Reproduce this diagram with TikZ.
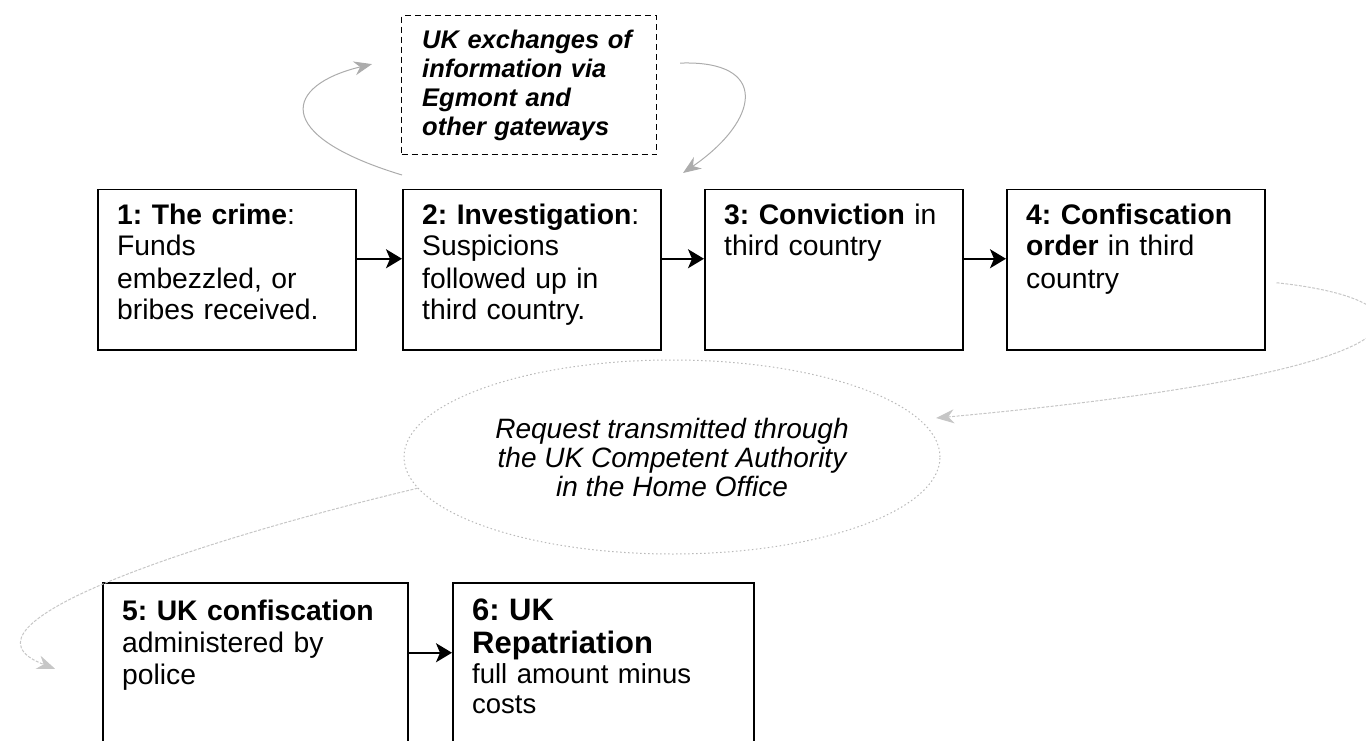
\documentclass[tikz,border=0pt]{standalone}
\usepackage{fontspec}
\setmainfont{Liberation Sans}
\usetikzlibrary{shapes.geometric,arrows.meta}
\frenchspacing
\hyphenpenalty=10000

\newcommand{\stagefont}{\fontsize{28.3}{32}\selectfont}
\newcommand{\headfont}{\fontsize{31}{33}\selectfont\bfseries}
\newcommand{\bodyfont}{\fontsize{27.5}{30}\selectfont}
\newcommand{\notefont}{\fontsize{25.5}{29}\selectfont\bfseries\itshape}
\newcommand{\requestfont}{\fontsize{28}{29}\selectfont\itshape}

\tikzset{
  stage/.style={draw, line width=1.5pt, anchor=north west, inner sep=0pt, minimum width=258pt, minimum height=160pt},
  stagetext/.style={anchor=base west, inner sep=0pt, text width=290pt, align=left, font=\stagefont},
  note/.style={draw, line width=1.2pt, dash pattern=on 6pt off 4pt, anchor=north west, inner sep=0pt, minimum width=255pt, minimum height=139pt},
  notetext/.style={anchor=base west, inner sep=0pt, text width=230pt, align=left, font=\notefont},
  request/.style={ellipse, draw=gray!55, line width=1pt, dash pattern=on 1.5pt off 2.5pt, minimum width=536pt, minimum height=194pt, inner sep=0pt, align=center, font=\requestfont},
  flow/.style={line width=1.8pt, -{Stealth[length=16pt,width=19pt,inset=4pt]}},
  relay/.style={gray!65, line width=1pt, -{Stealth[length=18pt,width=14pt]}},
  faint/.style={gray!45, line width=1pt, dash pattern=on 3pt off 1.5pt, -{Stealth[length=18pt,width=14pt]}},
}

\begin{document}
\begin{tikzpicture}[x=1pt,y=-1pt]
  \useasboundingbox (0,0) rectangle (1366,741);
  \clip (0,0) rectangle (1366,741);
  % stages in third country
  \node[stage] (s1) at (97,189) {};
  \node[stage] (s2) at (402,189) {};
  \node[stage] (s3) at (704,189) {};
  \node[stage] (s4) at (1006,189) {};
  \node[stagetext] (s1t) at ([shift={(20,35)}]s1.north west) {\textbf{1: The crime}:\\ Funds\\ embezzled, or\\ bribes received.};
  \node[stagetext] (s2t) at ([shift={(20,35)}]s2.north west) {\textbf{2: Investigation}:\\ Suspicions\\ followed up in\\ third country.};
  \node[stagetext] (s3t) at ([shift={(20,35)}]s3.north west) {\textbf{3: Conviction} in\\ third country};
  \node[stagetext] (s4t) at ([shift={(20,35)}]s4.north west) {\textbf{4: Confiscation}\\ \textbf{order} in third\\ country};
  \draw[flow] ([shift={(0,-11)}]s1.east) -- ([shift={(0,-11)}]s2.west);
  \draw[flow] ([shift={(0,-11)}]s2.east) -- ([shift={(0,-11)}]s3.west);
  \draw[flow] ([shift={(0,-11)}]s3.east) -- ([shift={(0,-11)}]s4.west);
  % stages in the UK
  \node[stage, minimum width=305pt, minimum height=200pt] (s5) at (102,582) {};
  \node[stage, minimum width=301pt, minimum height=200pt] (s6) at (452,582) {};
  \node[stagetext] (s5t) at ([shift={(20,38)}]s5.north west) {\textbf{5: UK confiscation}\\ administered by\\ police};
  \node[stagetext] (s6t) at ([shift={(20,38)}]s6.north west) {{\headfont 6: UK\\ Repatriation\par}{\bodyfont full amount minus\\ costs\par}};
  \draw[flow] ([shift={(0,-30)}]s5.east) -- ([shift={(0,-30)}]s6.west);
  % gateways
  \node[note] (info) at (401,15) {};
  \node[notetext] (infot) at ([shift={(21,34)}]info.north west) {UK exchanges of\\ information via\\ Egmont and\\ other gateways};
  \draw[relay] ([shift={(0,-14)}]s2.north west) .. controls (270,135) and (285,85) .. ([shift={(-29,-21)}]info.west);
  \draw[relay] ([shift={(23,-22)}]info.east) .. controls (770,60) and (760,120) .. ([shift={(-21,-16)}]s3.north west);
  % request
  \node[request] (req) at (672,457) {Request transmitted through\\ the UK Competent Authority\\ in the Home Office};
  \draw[faint] ([shift={(11,13)}]s4.east) .. controls (1440,300) and (1460,370) .. ([shift={(18,0)}]req.9);
  \draw[faint] (req.187) .. controls (200,540) and (-60,625) .. ([shift={(-47,-14)}]s5.west);
\end{tikzpicture}
\end{document}
